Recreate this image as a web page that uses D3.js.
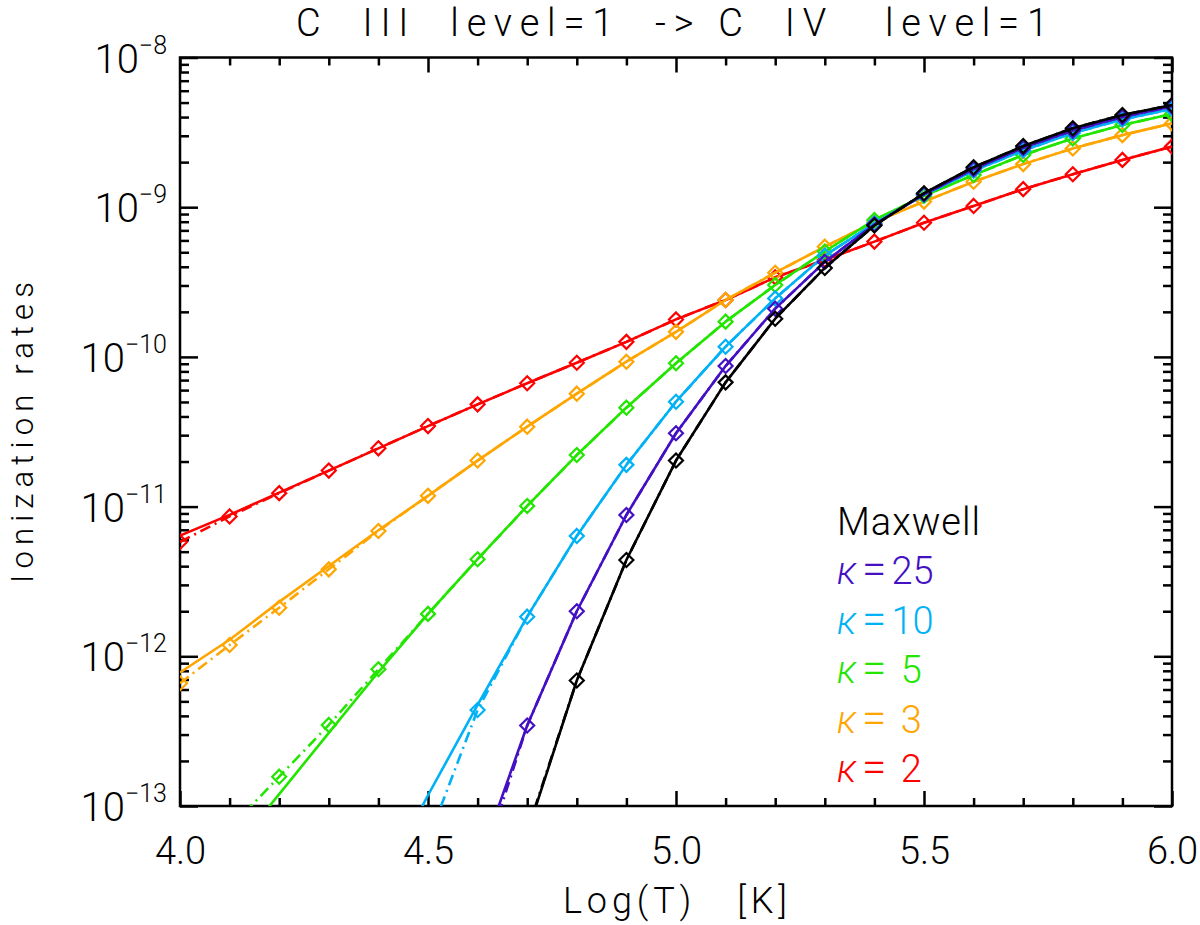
<!DOCTYPE html>
<html>
<head>
<meta charset="utf-8">
<script src="https://cdn.jsdelivr.net/npm/d3@7/dist/d3.min.js"></script>
<style>
  body { margin: 0; background: #fff; }
  text { font-family: Roboto, "Liberation Sans", sans-serif; font-weight: 300; fill: #000; }
</style>
</head>
<body>
<div id="chart"></div>
<script>
"use strict";

// temperature grid, log10(T) in K
var logT = [4.0, 4.1, 4.2, 4.3, 4.4, 4.5, 4.6, 4.7, 4.8, 4.9, 5.0,
            5.1, 5.2, 5.3, 5.4, 5.5, 5.6, 5.7, 5.8, 5.9, 6.0];

// dash-dot curves (with diamonds)
var kappa2Points  = [5.8e-12, 8.6e-12, 1.23e-11, 1.74e-11, 2.45e-11, 3.45e-11, 4.82e-11, 6.67e-11, 9.14e-11, 1.26e-10, 1.78e-10,
                     2.40e-10, 3.40e-10, 4.44e-10, 5.89e-10, 7.87e-10, 1.02e-9, 1.32e-9, 1.66e-9, 2.07e-9, 2.54e-9];
var kappa3Points  = [6.6e-13, 1.19e-12, 2.11e-12, 3.81e-12, 6.87e-12, 1.18e-11, 2.03e-11, 3.42e-11, 5.68e-11, 9.29e-11, 1.47e-10,
                     2.40e-10, 3.65e-10, 5.45e-10, 7.96e-10, 1.09e-9, 1.48e-9, 1.94e-9, 2.47e-9, 3.03e-9, 3.63e-9];
var kappa5Points  = [3.3e-14, 7.1e-14, 1.57e-13, 3.48e-13, 8.19e-13, 1.92e-12, 4.45e-12, 1.01e-11, 2.21e-11, 4.58e-11, 9.06e-11,
                     1.72e-10, 3.02e-10, 5.06e-10, 8.21e-10, 1.19e-9, 1.64e-9, 2.23e-9, 2.88e-9, 3.54e-9, 4.20e-9];
var kappa10Points = [null, null, null, null, 6.9e-15, 5.9e-14, 4.38e-13, 1.84e-12, 6.37e-12, 1.90e-11, 5.02e-11,
                     1.17e-10, 2.46e-10, 4.75e-10, 7.80e-10, 1.21e-9, 1.75e-9, 2.39e-9, 3.13e-9, 3.85e-9, 4.53e-9];
var kappa25Points = [null, null, null, null, null, null, 3.2e-14, 3.45e-13, 2.00e-12, 8.79e-12, 3.09e-11,
                     8.69e-11, 2.10e-10, 4.31e-10, 7.66e-10, 1.22e-9, 1.80e-9, 2.49e-9, 3.25e-9, 4.00e-9, 4.71e-9];
var maxwellPoints = [null, null, null, null, null, null, null, 6.8e-14, 6.89e-13, 4.40e-12, 2.03e-11,
                     6.76e-11, 1.80e-10, 3.93e-10, 7.55e-10, 1.24e-9, 1.85e-9, 2.56e-9, 3.37e-9, 4.13e-9, 4.82e-9];

// solid curves
var kappa2Solid  = [6.4e-12, 8.8e-12, 1.24e-11, 1.74e-11, 2.45e-11, 3.45e-11, 4.82e-11, 6.67e-11, 9.14e-11, 1.26e-10, 1.78e-10,
                    2.40e-10, 3.40e-10, 4.44e-10, 5.89e-10, 7.87e-10, 1.02e-9, 1.32e-9, 1.66e-9, 2.07e-9, 2.54e-9];
var kappa3Solid  = [7.8e-13, 1.29e-12, 2.31e-12, 4.01e-12, 6.95e-12, 1.18e-11, 2.03e-11, 3.42e-11, 5.68e-11, 9.29e-11, 1.47e-10,
                    2.40e-10, 3.65e-10, 5.45e-10, 7.96e-10, 1.09e-9, 1.48e-9, 1.94e-9, 2.47e-9, 3.03e-9, 3.63e-9];
var kappa5Solid  = [1.9e-14, 4.7e-14, 1.20e-13, 3.08e-13, 7.85e-13, 1.92e-12, 4.45e-12, 1.01e-11, 2.21e-11, 4.58e-11, 9.06e-11,
                    1.72e-10, 3.02e-10, 5.06e-10, 8.21e-10, 1.19e-9, 1.64e-9, 2.23e-9, 2.88e-9, 3.54e-9, 4.20e-9];
var kappa10Solid = [null, null, null, null, 2.75e-14, 1.18e-13, 4.73e-13, 1.84e-12, 6.37e-12, 1.90e-11, 5.02e-11,
                    1.17e-10, 2.46e-10, 4.75e-10, 7.80e-10, 1.21e-9, 1.75e-9, 2.39e-9, 3.13e-9, 3.85e-9, 4.53e-9];
var kappa25Solid = [null, null, null, null, null, null, 4.0e-14, 3.45e-13, 2.00e-12, 8.79e-12, 3.09e-11,
                    8.69e-11, 2.10e-10, 4.31e-10, 7.66e-10, 1.22e-9, 1.80e-9, 2.49e-9, 3.25e-9, 4.00e-9, 4.71e-9];
var maxwellSolid = [null, null, null, null, null, null, null, 6.6e-14, 6.89e-13, 4.40e-12, 2.03e-11,
                    6.76e-11, 1.80e-10, 3.93e-10, 7.55e-10, 1.24e-9, 1.85e-9, 2.56e-9, 3.37e-9, 4.13e-9, 4.82e-9];

var seriesNames  = ["κ= 2", "κ= 3", "κ= 5", "κ=10", "κ=25", "Maxwell"];
var seriesColors = ["#ff0000", "#ffa500", "#22e600", "#00b2f5", "#4410c4", "#000000"];
var seriesPoints = [kappa2Points, kappa3Points, kappa5Points, kappa10Points, kappa25Points, maxwellPoints];
var seriesSolid  = [kappa2Solid, kappa3Solid, kappa5Solid, kappa10Solid, kappa25Solid, maxwellSolid];

// legend goes top to bottom
var legendOrder = [5, 4, 3, 2, 1, 0];

var xMajorTicks = [4.0, 4.5, 5.0, 5.5, 6.0];
var yMajorTicks = [1e-13, 1e-12, 1e-11, 1e-10, 1e-9, 1e-8];
var yTickExponents = ["−13", "−12", "−11", "−10", "−9", "−8"];

var titleText = "C  III  level=1  -> C  IV   level=1";
var xTitle = "Log(T)   [K]";
var yTitle = "Ionization rates";

var w = 1200, h = 925;
var plotLeft = 180, plotRight = 1172, plotTop = 57.5, plotBottom = 806;

var svg = d3.select("#chart").append("svg").attr("width", w).attr("height", h);

var x = d3.scaleLinear().domain([4, 6]).range([plotLeft, plotRight]);
var y = d3.scaleLog().domain([1e-13, 1e-8]).range([plotBottom, plotTop]);

svg.append("clipPath").attr("id", "plotclip")
  .append("rect").attr("x", plotLeft).attr("y", plotTop)
  .attr("width", plotRight - plotLeft).attr("height", plotBottom - plotTop);

// minor tick values
var xMinorTicks = logT.filter(function (v) {
  return xMajorTicks.indexOf(v) < 0;
});
var yMinorTicks = [];
[-13, -12, -11, -10, -9].forEach(function (e) {
  for (var m = 2; m <= 9; m++) yMinorTicks.push(m * Math.pow(10, e));
});

var styleAxis = function (g) {
  g.select(".domain").remove();
  g.selectAll(".tick line").attr("stroke", "#000").attr("stroke-width", 2.5);
};

// x axes
svg.append("g").attr("transform", "translate(0," + plotBottom + ")")
  .call(d3.axisBottom(x).tickValues(xMajorTicks).tickSize(-15).tickFormat(d3.format(".1f")))
  .call(styleAxis)
  .call(function (g) {
    g.selectAll("text").attr("y", 58).attr("dy", null)
      .attr("font-size", 38).attr("fill", "#000")
      .attr("font-family", null);
  });
svg.append("g").attr("transform", "translate(0," + plotBottom + ")")
  .call(d3.axisBottom(x).tickValues(xMinorTicks).tickSize(-8).tickFormat(""))
  .call(styleAxis);
svg.append("g").attr("transform", "translate(0," + plotTop + ")")
  .call(d3.axisTop(x).tickValues(xMajorTicks).tickSize(-15).tickFormat(""))
  .call(styleAxis);
svg.append("g").attr("transform", "translate(0," + plotTop + ")")
  .call(d3.axisTop(x).tickValues(xMinorTicks).tickSize(-8).tickFormat(""))
  .call(styleAxis);

// y axes
svg.append("g").attr("transform", "translate(" + plotLeft + ",0)")
  .call(d3.axisLeft(y).tickValues(yMajorTicks).tickSize(-18).tickFormat(""))
  .call(styleAxis);
svg.append("g").attr("transform", "translate(" + plotLeft + ",0)")
  .call(d3.axisLeft(y).tickValues(yMinorTicks).tickSize(-9).tickFormat(""))
  .call(styleAxis);
svg.append("g").attr("transform", "translate(" + plotRight + ",0)")
  .call(d3.axisRight(y).tickValues(yMajorTicks).tickSize(-18).tickFormat(""))
  .call(styleAxis);
svg.append("g").attr("transform", "translate(" + plotRight + ",0)")
  .call(d3.axisRight(y).tickValues(yMinorTicks).tickSize(-9).tickFormat(""))
  .call(styleAxis);

// y tick labels as 10^n
var ylab = svg.append("g").selectAll("text")
  .data(yMajorTicks)
  .enter().append("text")
  .attr("x", 167)
  .attr("y", function (d) { return y(d) + 15; })
  .attr("text-anchor", "end");
ylab.append("tspan").attr("font-size", 40).text("10");
ylab.append("tspan").attr("font-size", 25).attr("dy", -19)
  .text(function (d, i) { return yTickExponents[i]; });

// frame
svg.append("rect").attr("x", plotLeft).attr("y", plotTop)
  .attr("width", plotRight - plotLeft).attr("height", plotBottom - plotTop)
  .attr("fill", "none").attr("stroke", "#000").attr("stroke-width", 2.5);

// curves
var plot = svg.append("g").attr("clip-path", "url(#plotclip)");

var line = d3.line()
  .defined(function (d) { return d.v !== null; })
  .x(function (d) { return x(d.t); })
  .y(function (d) { return y(d.v); });

var toPoints = function (arr) {
  return arr.map(function (v, i) { return { t: logT[i], v: v }; });
};

seriesNames.forEach(function (name, k) {
  var col = seriesColors[k];
  plot.append("path")
    .datum(toPoints(seriesSolid[k]))
    .attr("d", line)
    .attr("fill", "none").attr("stroke", col).attr("stroke-width", 2.6)
    .attr("stroke-linejoin", "round");
  plot.append("path")
    .datum(toPoints(seriesPoints[k]))
    .attr("d", line)
    .attr("fill", "none").attr("stroke", col).attr("stroke-width", 2.6)
    .attr("stroke-dasharray", "11,5,2,5");
  plot.selectAll(".dia" + k)
    .data(toPoints(seriesPoints[k]).filter(function (d) { return d.v !== null; }))
    .enter().append("path")
    .attr("class", "dia" + k)
    .attr("d", "M0,-7L7,0L0,7L-7,0Z")
    .attr("transform", function (d) { return "translate(" + x(d.t) + "," + y(d.v) + ")"; })
    .attr("fill", "none").attr("stroke", col).attr("stroke-width", 2.2);
});

// legend
var legend = svg.append("g");
legendOrder.forEach(function (k, i) {
  var name = seriesNames[k];
  var t = legend.append("text")
    .attr("x", 837)
    .attr("y", 535 + i * 49.4)
    .attr("font-size", 38)
    .style("white-space", "pre")
    .style("fill", seriesColors[k]);
  if (name.charAt(0) === "κ") {
    t.append("tspan").attr("font-style", "italic").style("fill", seriesColors[k]).text("κ");
    t.append("tspan").attr("dx", 5).attr("font-size", 44).style("fill", seriesColors[k]).text("=");
    t.append("tspan").attr("dx", 5).style("fill", seriesColors[k]).text(name.slice(2));
  } else {
    t.attr("textLength", 143).attr("lengthAdjust", "spacing").text(name);
  }
});

// titles
svg.append("text")
  .attr("x", 296).attr("y", 36)
  .attr("font-size", 38)
  .attr("textLength", 752).attr("lengthAdjust", "spacing")
  .style("white-space", "pre")
  .text(titleText);

svg.append("text")
  .attr("x", 563).attr("y", 913)
  .attr("font-size", 36)
  .attr("textLength", 224).attr("lengthAdjust", "spacing")
  .style("white-space", "pre")
  .text(xTitle);

svg.append("text")
  .attr("transform", "translate(33,583) rotate(-90)")
  .attr("font-size", 31)
  .attr("textLength", 301).attr("lengthAdjust", "spacing")
  .style("white-space", "pre")
  .text(yTitle);
</script>
</body>
</html>
